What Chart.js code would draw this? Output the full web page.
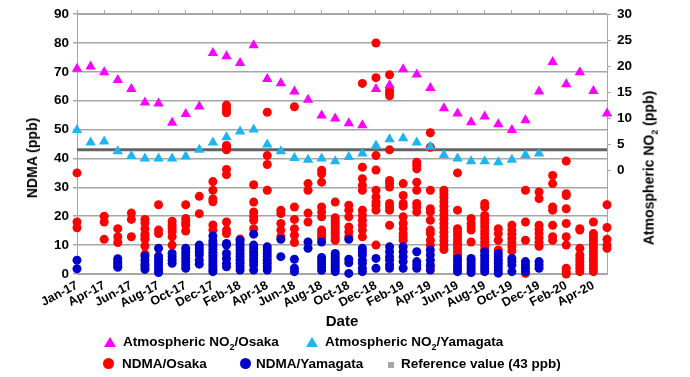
<!DOCTYPE html>
<html lang="en">
<head>
<meta charset="UTF-8">
<title>NDMA and NO2</title>
<script src="https://cdn.jsdelivr.net/npm/chart.js"></script>
<style>
    body { margin: 0; background: #fff; font-family: "Liberation Sans", Arial, sans-serif; }
    #wrap { position: relative; width: 690px; height: 377px; }
    .ytitle {
        position: absolute; white-space: nowrap; font-weight: bold; font-size: 14px;
        transform: translate(-50%, -50%) rotate(-90deg);
    }
    .leg { position: absolute; font-weight: bold; font-size: 13.5px; white-space: nowrap; line-height: 16px; }
    .tri { position: absolute; width: 0; height: 0; border-left: 6px solid transparent; border-right: 6px solid transparent; }
    .dot { position: absolute; width: 11px; height: 11px; border-radius: 50%; }
    sub { font-size: 9px; }
</style>
</head>
<body>
<div id="wrap">
    <canvas id="chart" width="690" height="377"></canvas>
    <div class="ytitle" style="left:32px;top:158px">NDMA (ppb)</div>
    <div class="ytitle" style="left:650px;top:168px">Atmospheric NO<sub>2</sub> (ppb)</div>

    <div class="tri" style="left:104px;top:337px;border-bottom:10px solid #ff00ff"></div>
    <div class="leg" style="left:123px;top:334px">Atmospheric NO<sub>2</sub>/Osaka</div>
    <div class="tri" style="left:306px;top:337px;border-bottom:10px solid #1eb4f0"></div>
    <div class="leg" style="left:325px;top:334px">Atmospheric NO<sub>2</sub>/Yamagata</div>

    <div class="dot" style="left:103px;top:358px;background:#ff0000"></div>
    <div class="leg" style="left:122px;top:356px">NDMA/Osaka</div>
    <div class="dot" style="left:240px;top:358px;background:#0000cd"></div>
    <div class="leg" style="left:256px;top:356px">NDMA/Yamagata</div>
    <div class="dot" style="left:388px;top:362px;width:6px;height:6px;border-radius:0;background:#a6a6a6"></div>
    <div class="leg" style="left:401px;top:356px">Reference value (43 ppb)</div>
</div>

<script>
// x tick labels, one every second month
const xLabels = ['Jan-17', 'Apr-17', 'Jun-17', 'Aug-17', 'Oct-17', 'Dec-17', 'Feb-18', 'Apr-18',
    'Jun-18', 'Aug-18', 'Oct-18', 'Dec-18', 'Feb-19', 'Apr-19', 'Jun-19', 'Aug-19',
    'Oct-19', 'Dec-19', 'Feb-20', 'Apr-20'];

// monthly atmospheric NO2 (ppb, right axis), 40 months
const no2Osaka = [19.5, 19.9, 18.8, 17.3, 15.6, 13.0, 12.8, 9.1, 10.8, 12.2,
    22.5, 21.9, 20.6, 24.0, 17.5, 16.7, 15.1, 13.5, 10.5, 9.9,
    9.0, 8.6, 15.6, 16.3, 19.4, 18.4, 15.8, 11.9, 10.9, 9.2,
    10.3, 8.8, 7.7, 9.6, 15.1, 20.8, 16.5, 18.8, 15.2, 10.9];
const no2Yamagata = [7.7, 5.3, 5.5, 3.6, 2.7, 2.2, 2.2, 2.2, 2.6, 3.9,
    5.3, 6.3, 7.4, 7.8, 4.9, 3.6, 2.3, 2.0, 2.2, 1.7,
    2.5, 3.2, 4.7, 5.9, 6.1, 5.3, 4.5, 2.9, 2.2, 1.7,
    1.7, 1.5, 2.0, 2.9, 3.2, null, null, null, null, null];

// NDMA samples per month (ppb, left axis)
const ndmaOsaka = [
    [35, 18, 16], [], [20, 18, 12], [15.7, 12.9, 10.9], [21.1, 18.9, 12.9],
    [18.9, 17.7, 15.7, 13.8, 12.9, 12, 9.7, 6.9], [24, 15.2, 14],
    [18.3, 16.9, 15.7, 14.6, 12.9, 10], [24, 19.2, 18, 16.9, 14.9], [26.9, 20.9],
    [32, 29, 26, 25, 17, 15.2],
    [58.5, 57.5, 56.5, 55.8, 44.5, 43.7, 43, 36.2, 34.4, 18, 15.2, 14],
    [12.1], [30.9, 24.9, 21.5, 20, 18.6, 15.7], [56, 41, 37.9, 29],
    [22.1, 20.9, 17.5, 15.2, 12.9], [57.9, 23.2, 18.9, 15.7, 13.4, 10.9], [31.3, 29, 21.1, 18],
    [35.9, 34.7, 31.8, 23.2, 21.5, 19.8, 15.2, 14.2, 13.2, 12.3],
    [24.9, 19.5, 18.5, 17.5, 16.5, 15.5, 14.5, 13.5, 12.5, 11.7],
    [23.8, 22.1, 19.8, 16.3, 14.6, 12.9],
    [66, 37, 33, 30.7, 29, 22.1, 20.3, 18.6, 16.9, 15.2, 12.9],
    [80, 68, 41, 36, 29, 26.7, 24.9, 23.8, 22.1, 10],
    [69, 63.5, 62.5, 61.7, 43, 32.4, 31.3, 30.1, 24.4, 23.2, 22.1, 16.9],
    [31.3, 27.2, 24.4, 23.5, 19.8, 17.5, 15.7, 14, 12.9, 11.7],
    [38.7, 37.6, 36.4, 31.8, 29, 24.4, 23.2, 21.5],
    [48.9, 43.9, 29, 22.6, 21.5, 18.6, 15.2, 14, 11.7, 10, 2.5],
    [29, 27.8, 26.5, 25, 23.5, 22, 20.5, 19, 17.5, 16, 14.5, 13, 11.5, 10, 8.5],
    [35, 22.1, 15.7, 14.6, 13.5, 12.3, 11.1, 10, 8.9, 7.7, 6.6],
    [19.2, 17.5, 16.3, 15.2, 11.1],
    [24.4, 23.2, 20.3, 19, 17.7, 16.4, 15, 13.7, 12.4, 11, 9.7, 8.4],
    [15.7, 14, 11.7, 8.3], [16.9, 15.2, 13.8, 12.3, 10.9, 9.4, 8], [29, 18, 11.7, 0.2],
    [28.4, 26.1, 16.9, 15.5, 14, 12.5, 11, 9.6], [34.1, 31.3, 23.2, 22.1, 16.9, 12.9, 11.7],
    [39.1, 27.8, 27.2, 22.6, 17.5, 12.9, 10, 2, 0.8, 0],
    [15.7, 15.2, 8.9, 6.6, 5.4, 4.3, 3.1, 2, 0.8],
    [18, 14, 12.8, 11.6, 10.4, 9.2, 8, 6.8, 5.6, 4.4, 3.2, 2, 0.8],
    [24, 16.1, 12, 10, 8.9]
];
const ndmaYamagata = [
    [4.8, 1.8], [], [], [5.3, 4.5, 3.8, 3.0, 2.3], [], [6.2, 4.8, 3.4, 2.5, 1.6],
    [8.9, 6.2, 5.1, 3.9, 2.8, 1.6, 0.5], [7.1, 6.0, 4.8, 3.7], [8.9, 7.7, 6.6, 5.4, 4.3, 3.1, 2.0],
    [10, 8.9, 7.7, 6.6, 4.8, 3.4],
    [13.2, 11.5, 10.5, 9.5, 8.5, 7.5, 6.5, 5.5, 4.5, 3.5, 2.5, 1.5, 0.8],
    [10.6, 10, 7.1, 5.4, 3.7, 2.5], [11.7, 10.5, 9.4, 8.3, 7.1, 6, 4.8, 3.7, 2.5, 1.4],
    [13.8, 10, 8.9, 7.7, 6.6, 5.4, 4.3, 3.1, 1.4], [9.4, 8.3, 7.1, 6, 4.8, 3.7, 2.5, 1.4],
    [12, 6], [5.1, 2, 0.8], [11.1, 8.9], [11.1, 5.7, 4.6, 3.5, 2.4, 1.3],
    [7.1, 6.2, 5.3, 4.4, 3.5, 2.6, 1.7, 0.8], [12, 5.1, 3.9, 0.2],
    [8.9, 7.7, 6.6, 4.8, 3.7, 2, 0.8], [5.4, 2], [9.4, 7.7, 6, 4.8, 3.1, 2],
    [9.4, 7.7, 6, 4.3, 2], [7.7, 4.3, 3.1, 2], [8.3, 6.6, 4.8, 3.1, 1.4], [],
    [5.4, 4.3, 3.1, 2, 0.8], [5.4, 4.5, 3.5, 2.5, 1.5, 0.5], [7.7, 6.5, 5.4, 4.3, 3.1, 2, 0.8],
    [7.1, 6, 4.8, 3.7, 2.5, 1.4, 0.3], [5.4, 4.3, 3.1, 0.8], [4.3, 3.1, 2, 0.8], [4.3, 3.1, 2],
    [], [], [], [], []
];
const referenceValue = 43;

function monthly(arr) {
    return arr.map((v, i) => v == null ? null : { x: i, y: v }).filter(p => p);
}
function samples(arr) {
    return arr.flatMap((vals, i) => vals.map(v => ({ x: i, y: v })));
}

const gridGray = '#a6a6a6';
Chart.defaults.font.family = '"Liberation Sans", Arial, sans-serif';
Chart.defaults.font.weight = 'bold';
Chart.defaults.color = '#000';

const everyOther = scale => { scale.ticks = xLabels.map((_, i) => ({ value: i * 2 })); };

new Chart(document.getElementById('chart'), {
    type: 'scatter',
    data: {
        datasets: [
            { label: 'Atmospheric NO2/Osaka', data: monthly(no2Osaka), yAxisID: 'y2', order: 1, clip: false,
              pointStyle: 'triangle', pointRadius: 6, pointBorderWidth: 0, backgroundColor: '#ff00ff' },
            { label: 'Atmospheric NO2/Yamagata', data: monthly(no2Yamagata), yAxisID: 'y2', order: 2, clip: false,
              pointStyle: 'triangle', pointRadius: 6, pointBorderWidth: 0, backgroundColor: '#1eb4f0' },
            { label: 'NDMA/Yamagata', data: samples(ndmaYamagata), yAxisID: 'y', order: 3, clip: false,
              pointRadius: 4.5, pointBorderWidth: 0, backgroundColor: '#0000cd' },
            { label: 'NDMA/Osaka', data: samples(ndmaOsaka), yAxisID: 'y', order: 4, clip: false,
              pointRadius: 4.5, pointBorderWidth: 0, backgroundColor: '#ff0000' },
            { label: 'Reference value (43 ppb)', type: 'line', yAxisID: 'y', order: 5,
              data: [{ x: 0, y: referenceValue }, { x: xLabels.length * 2 - 1, y: referenceValue }],
              borderColor: '#646464', borderWidth: 3, pointRadius: 0, fill: false }
        ]
    },
    options: {
        responsive: false,
        animation: false,
        devicePixelRatio: 1,
        layout: { padding: { left: 0, right: 0, top: 9, bottom: 43 } },
        plugins: { legend: { display: false }, tooltip: { enabled: false } },
        scales: {
            x: {
                type: 'linear', position: 'bottom', min: 0, max: 39,
                afterBuildTicks: everyOther,
                afterFit: s => { s.height = 60; },
                grid: { display: false, drawTicks: false },
                border: { display: true, color: gridGray },
                ticks: { autoSkip: false, minRotation: 28, maxRotation: 28, padding: 4, font: { size: 12.5 },
                         callback: v => xLabels[v / 2] },
                title: { display: true, text: 'Date', font: { size: 15 }, padding: { top: 0, bottom: 3 } }
            },
            xTop: {
                type: 'linear', position: 'top', min: 0, max: 39,
                afterBuildTicks: everyOther,
                afterFit: s => { s.height = 4; },
                grid: { drawOnChartArea: false, tickLength: 4, color: gridGray },
                border: { display: true, color: gridGray },
                ticks: { display: false, autoSkip: false }
            },
            y: {
                position: 'left', min: 0, max: 90,
                afterFit: s => { s.width = 77; },
                grid: { color: gridGray, lineWidth: 1.5, tickLength: 4 },
                border: { color: gridGray },
                ticks: { stepSize: 10, padding: 4, font: { size: 13.5 } }
            },
            y2: {
                position: 'right', min: -20, max: 30,
                afterFit: s => { s.width = 83; },
                grid: { drawOnChartArea: false, tickLength: 4,
                        color: c => c.tick && c.tick.value >= 0 ? gridGray : 'rgba(0,0,0,0)' },
                border: { color: gridGray },
                ticks: { stepSize: 5, padding: 6, font: { size: 13.5 },
                         callback: v => v >= 0 ? v : '' }
            }
        }
    }
});
</script>
</body>
</html>
